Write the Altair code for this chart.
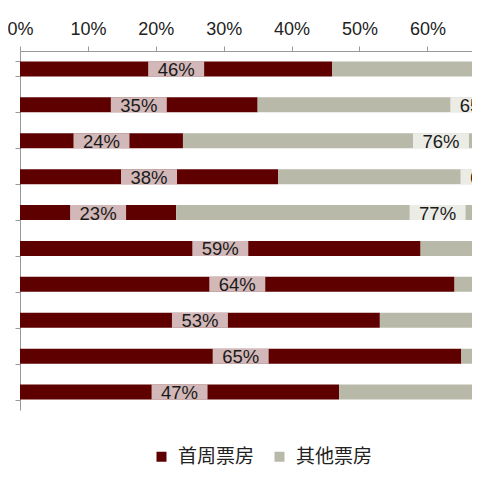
import altair as alt
import pandas as pd

# Films (names cut off in the reference; kept as row ids)
films = ["影片1", "影片2", "影片3", "影片4", "影片5", "影片6", "影片7", "影片8", "影片9", "影片10"]
first_week = [46, 35, 24, 38, 23, 59, 64, 53, 65, 47]
other = [54, 65, 76, 62, 77, 41, 36, 47, 35, 53]
series_names = ["首周票房", "其他票房"]
series_colors = ["#5f0000", "#b9b9aa"]
tick_values = [0, 0.1, 0.2, 0.3, 0.4, 0.5, 0.6, 0.7]

rows = []
for f, a, b in zip(films, first_week, other):
    rows.append({"film": f, "series": series_names[0], "value": a,
                 "start": 0, "end": a / 100, "mid": a / 200, "label": f"{a}%"})
    rows.append({"film": f, "series": series_names[1], "value": b,
                 "start": a / 100, "end": (a + b) / 100, "mid": (a + b / 2) / 100, "label": f"{b}%"})
df = pd.DataFrame(rows)

xscale = alt.Scale(domain=[0, 0.6657], nice=False, zero=False)
yenc = alt.Y("film:N", sort=films,
             scale=alt.Scale(paddingInner=0.58, paddingOuter=0.29),
             axis=alt.Axis(labels=False, title=None, domainColor="#999999",
                           tickColor="#999999", tickBand="extent", tickSize=5))

bars = alt.Chart(df).mark_bar(size=15, clip=True).encode(
    x=alt.X("start:Q", scale=xscale,
            axis=alt.Axis(orient="top", format=".0%", values=tick_values, title=None,
                          grid=False, domainColor="#999999", tickColor="#999999",
                          tickSize=5, labelFontSize=18, labelColor="#222222",
                          labelFont="Liberation Sans", labelPadding=8, labelFlush=False)),
    x2="end:Q",
    y=yenc,
    color=alt.Color("series:N", scale=alt.Scale(domain=series_names, range=series_colors),
                    legend=alt.Legend(orient="none", legendX=132, legendY=396,
                                      direction="horizontal", title=None,
                                      symbolType="square", symbolSize=100,
                                      symbolStrokeWidth=0, labelFontSize=19,
                                      labelFont="Noto Sans CJK SC", labelColor="#222222",
                                      columnPadding=15, labelOffset=7)),
)

boxes = alt.Chart(df).mark_bar(size=15, color="white", opacity=0.72,
                               xOffset=-28, x2Offset=28, clip=True).encode(
    x=alt.X("mid:Q", scale=xscale),
    x2="mid:Q",
    y=yenc,
)

texts = alt.Chart(df).mark_text(fontSize=18.5, font="Liberation Sans", color="#1a1a1a",
                                clip=True, dy=1).encode(
    x=alt.X("mid:Q", scale=xscale),
    y=yenc,
    text="label:N",
)

chart = alt.layer(bars, boxes, texts).properties(
    width=452, height=359,
    padding={"left": 12, "top": 43, "right": 0, "bottom": 56},
    autosize=alt.AutoSizeParams(type="none"),
).configure_view(stroke=None)

chart.save("out.html", embed_options={"renderer": "svg", "actions": False})
